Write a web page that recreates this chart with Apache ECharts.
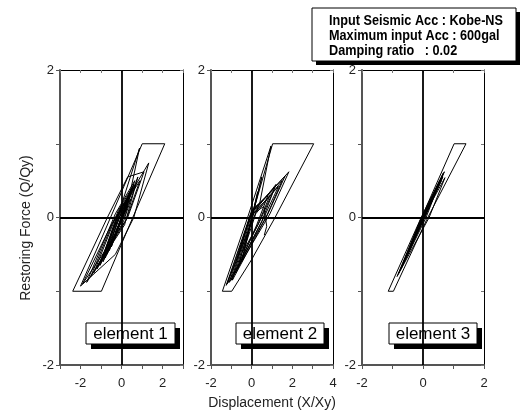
<!DOCTYPE html>
<html>
<head>
<meta charset="utf-8">
<script src="https://cdn.jsdelivr.net/npm/echarts@6/dist/echarts.min.js"></script>
<style>html,body{margin:0;padding:0;background:#fff}#c{width:530px;height:412px}</style>
</head>
<body>
<div id="c"></div>
<script>
// Panel axis ranges
const xMins = [-3, -2, -2];
const xMaxs = [3, 4, 2];
const yMin = -2, yMax = 2;
const panelNames = ['element 1', 'element 2', 'element 3'];
const infoLines = ['Input Seismic Acc : Kobe-NS', 'Maximum input Acc : 600gal', 'Damping ratio   : 0.02'];
const xTitle = 'Displacement (X/Xy)';
const yTitle = 'Restoring Force (Q/Qy)';

// Hysteresis paths [displacement, restoring force]
const element1 = [
  [0,0],[0.25,0.2],[-0.2,-0.15],[0.45,0.35],[-0.35,-0.3],[0.6,0.45],[0.1,0.05],[-0.7,-0.5],[-0.1,0.05],
  [0.5,0.4],[-0.9,-0.55],[-0.2,0.0],[0.88,0.94],[0.2,0.05],[-1.0,-0.6],[-0.25,0.0],[1.33,0.74],[0.6,0.0],
  [-0.3,-0.5],[-2.0,-0.93],[-1.0,-0.3],[1.01,1.0],[2.11,1.0],[0.55,0.0],[-0.98,-1.0],[-2.38,-1.0],[-0.69,0.0],
  [0.3,0.55],[1.1,0.62],[0.3,0.0],[-1.9,-0.9],[-0.5,-0.1],[0.9,0.5],[0.2,-0.05],[-1.5,-0.8],[-0.4,-0.05],
  [0.7,0.45],[0.1,-0.05],[-1.2,-0.7],[-0.3,-0.1],[0.5,0.35],[-0.1,-0.1],[-0.9,-0.6],[-0.2,0.0],[0.4,0.28],
  [-0.5,-0.4],[0.2,0.12],[-0.3,-0.2],[0.3,0.15],[-0.2,-0.15],[0.1,0.05],
  [0.8,0.55],[0.15,-0.1],[-1.7,-0.88],[-0.3,0.05],[0.65,0.5],[0.0,-0.05],[-1.35,-0.75],[-0.15,0.1],
  [0.55,0.42],[-0.05,-0.08],[-1.05,-0.65],[-0.1,0.1],[0.35,0.3],[-0.25,-0.2],[-0.8,-0.55],[0.0,0.08],
  [0.45,0.25],[-0.15,-0.12],[-0.6,-0.45],[0.05,0.05]
];
const element2 = [
  [0,0],[0.3,0.35],[-0.25,-0.3],[0.5,0.55],[-0.5,-0.6],[0.1,0.1],[1.03,1.0],[3.05,1.0],[1.15,0.0],[0.0,-0.57],
  [-0.98,-1.0],[-1.44,-1.0],[-0.2,0.0],[0.95,0.97],[0.4,0.2],[-1.25,-0.92],[-0.05,0.05],[1.83,0.62],[0.9,0.05],
  [-1.1,-0.88],[0.0,0.08],[1.64,0.56],[0.8,0.05],[-0.95,-0.85],[-0.1,0.0],[1.32,0.42],[0.6,0.0],[-0.8,-0.75],
  [0.05,0.1],[1.1,0.38],[0.4,-0.05],[-0.6,-0.6],[0.1,0.05],[0.9,0.3],[0.3,-0.1],[-0.4,-0.45],[0.2,0.05],
  [1.5,0.5],[0.7,0.0],[-1.2,-0.9],[-0.05,0.02],[1.2,0.45],[0.5,-0.05],[-1.0,-0.85],[0.0,0.1],[0.8,0.3],
  [0.25,-0.1],[-0.7,-0.7],[0.05,0.05],[0.6,0.15],[0.74,-0.12],[0.62,-0.24]
];
const element3 = [
  [0,0],[0.3,0.28],[-0.25,-0.25],[0.5,0.45],[0.1,0.05],[-0.55,-0.52],[0.0,0.0],[0.72,0.54],[0.2,0.0],
  [-0.85,-0.8],[-0.1,-0.05],[1.02,1.0],[1.41,1.0],[0.12,-0.03],[-0.97,-1.0],[-1.14,-1.0],[-0.06,0.0],
  [0.66,0.6],[0.1,0.0],[-0.75,-0.72],[-0.05,0.0],[0.6,0.5],[0.05,0.0],[-0.6,-0.58],[0.0,0.02],[0.45,0.4],
  [-0.35,-0.35],[0.2,0.18],[-0.1,-0.1],[0.7,0.62],[0.08,0.02],[-0.8,-0.76],[-0.02,0.0],[0.55,0.5],
  [-0.5,-0.48],[0.65,0.55],[0.02,-0.02],[-0.7,-0.68],[0.0,0.0]
];
const seriesData = [element1, element2, element3];

const gridBoxes = [
  {left: 60, top: 70, width: 123, height: 295},
  {left: 211, top: 70, width: 122, height: 295},
  {left: 362, top: 70, width: 122, height: 295}
];
const FONT = 'Liberation Sans, Arial, sans-serif';

const chart = echarts.init(document.getElementById('c'), null, {renderer: 'canvas'});
const evenFmt = v => (Math.round(v) % 2 === 0 ? String(v) : '');

const xAxes = [], yAxes = [], series = [];
for (let i = 0; i < 3; i++) {
  xAxes.push({
    gridIndex: i, type: 'value', min: xMins[i], max: xMaxs[i], interval: 1,
    axisLine: {onZero: false, lineStyle: {color: '#555', width: 2}},
    axisTick: {length: 4, lineStyle: {color: '#555', width: 1}},
    axisLabel: {formatter: evenFmt, fontSize: 13, color: '#222', fontFamily: FONT, margin: 12},
    splitLine: {show: false}
  });
  yAxes.push({
    gridIndex: i, type: 'value', min: yMin, max: yMax, interval: 1,
    axisLine: {onZero: false, lineStyle: {color: '#555', width: 2}},
    axisTick: {length: 4, lineStyle: {color: '#555', width: 1}},
    axisLabel: {formatter: evenFmt, fontSize: 13, color: '#222', fontFamily: FONT, margin: 6},
    splitLine: {show: false}
  });
}
for (let i = 0; i < 3; i++) {
  xAxes.push({
    gridIndex: i, type: 'value', position: 'top', min: xMins[i], max: xMaxs[i], interval: 1,
    axisLine: {onZero: false, lineStyle: {color: '#000', width: 1}},
    axisTick: {inside: true, length: 3, lineStyle: {color: '#777'}},
    axisLabel: {show: false}, splitLine: {show: false}
  });
  yAxes.push({
    gridIndex: i, type: 'value', position: 'right', min: yMin, max: yMax, interval: 1,
    axisLine: {onZero: false, lineStyle: {color: '#000', width: 1}},
    axisTick: {inside: true, length: 3, lineStyle: {color: '#777'}},
    axisLabel: {show: false}, splitLine: {show: false}
  });
}
for (let i = 0; i < 3; i++) {
  series.push({
    type: 'line', xAxisIndex: i, yAxisIndex: i, data: seriesData[i],
    showSymbol: false, symbol: 'none', silent: true,
    lineStyle: {color: '#000', width: 1},
    markLine: {
      silent: true, symbol: 'none', animation: false,
      label: {show: false},
      lineStyle: {color: '#000', width: 1.8, type: 'solid'},
      data: [{xAxis: 0}, {yAxis: 0}]
    }
  });
}

const graphics = [];
// axis titles
graphics.push({type: 'text', x: 26, y: 228, rotation: Math.PI / 2,
  style: {text: yTitle, font: '14px ' + FONT, fill: '#222', textAlign: 'center', textVerticalAlign: 'middle'}});
graphics.push({type: 'text', x: 272, y: 403,
  style: {text: xTitle, font: '14px ' + FONT, fill: '#222', textAlign: 'center', textVerticalAlign: 'middle'}});
// element labels
const elemBoxX = [86, 236, 389];
const elemBoxW = [89, 88, 88];
for (let i = 0; i < 3; i++) {
  graphics.push({type: 'rect', shape: {x: elemBoxX[i] + 5, y: 328, width: elemBoxW[i], height: 21}, style: {fill: '#000'}});
  graphics.push({type: 'rect', shape: {x: elemBoxX[i], y: 323, width: elemBoxW[i], height: 21}, style: {fill: '#fff', stroke: '#000', lineWidth: 1}});
  graphics.push({type: 'text', x: elemBoxX[i] + elemBoxW[i] / 2, y: 334,
    style: {text: panelNames[i], font: '17px ' + FONT, fill: '#000', textAlign: 'center', textVerticalAlign: 'middle'}});
}
// info box
graphics.push({type: 'rect', shape: {x: 316, y: 12, width: 204, height: 53}, style: {fill: '#000'}});
graphics.push({type: 'rect', shape: {x: 312, y: 8, width: 204, height: 53}, style: {fill: '#fff', stroke: '#000', lineWidth: 1}});
const infoY = [21, 36, 51];
graphics.push({type: 'group', x: 329, y: 0, scaleX: 0.845,
  children: infoLines.map((t, k) => ({type: 'text', x: 0, y: infoY[k],
    style: {text: t, font: 'bold 15px ' + FONT, fill: '#000', textAlign: 'left', textVerticalAlign: 'middle'}}))});

chart.setOption({
  animation: false,
  backgroundColor: '#fff',
  grid: gridBoxes,
  xAxis: xAxes,
  yAxis: yAxes,
  series: series,
  graphic: graphics
});
</script>
</body>
</html>
